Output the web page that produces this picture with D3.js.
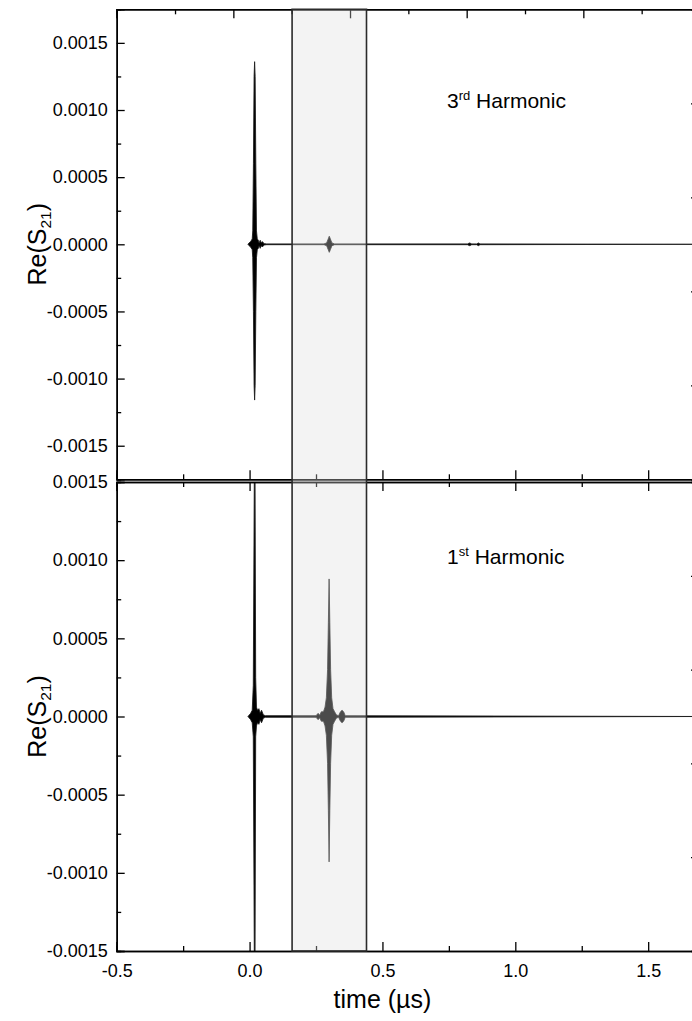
<!DOCTYPE html>
<html>
<head>
<meta charset="utf-8">
<script src="https://cdn.jsdelivr.net/npm/d3@7"></script>
<style>
  html, body { margin: 0; padding: 0; background: #fff; }
  svg { display: block; font-family: "Liberation Sans", Arial, sans-serif; }
</style>
</head>
<body>
<svg id="chart" width="692" height="1021"></svg>
<script>
// ---- time axis (µs) ----
const xMajorTicks = [-0.5, 0.0, 0.5, 1.0, 1.5];
const xMinorTicks = [-0.25, 0.25, 0.75, 1.25];
const xTickLabels = ["-0.5", "0.0", "0.5", "1.0", "1.5"];
// upper frame axis of the 3rd-harmonic layer
const topFrameMajor = [-0.5, 0.0, 0.5, 1.0, 1.5, 2.0];
const topFrameMinor = [-0.25, 0.25, 0.75, 1.25, 1.75];
// right frame ticks (fractions of each layer height, in fifths)
const rightFrameTicks = [1, 2, 3, 4];

// ---- Re(S21) axes ----
const yMajorTicks = [0.0015, 0.0010, 0.0005, 0.0000, -0.0005, -0.0010, -0.0015];
const yMinorTicks = [0.00125, 0.00075, 0.00025, -0.00025, -0.00075, -0.00125];
const yTickLabels = ["0.0015", "0.0010", "0.0005", "0.0000", "-0.0005", "-0.0010", "-0.0015"];

// ---- time window highlighted across both layers (µs) ----
const windowRange = [0.16, 0.44];

// ---- 3rd harmonic: signal envelope (time µs, upper, lower) ----
const h3Time  = [-0.006, -0.002, 0.004, 0.010, 0.012, 0.0145, 0.017, 0.019, 0.021, 0.0235, 0.026, 0.029,
                 0.033, 0.036, 0.040, 0.044, 0.048, 0.055, 0.065, 0.280, 0.290, 0.296, 0.300, 0.304,
                 0.310, 0.320, 0.820, 0.828, 0.836, 0.855, 0.861, 0.867, 1.700];
const h3Upper = [0, 0.00001, 0.00002, 0.00004, 0.0001, 0.0006, 0.00125, 0.00136, 0.00125, 0.0006, 0.0001, 0.00004,
                 0.00003, 0.00001, 0.00003, 0.00001, 0.00002, 0.000005, 0.000003, 0.000003, 0.00001, 0.00004, 0.00006, 0.00004,
                 0.00001, 0.000003, 0.000003, 0.00001, 0.000003, 0.000003, 0.00001, 0.000003, 0];
const h3Lower = [0, -0.00001, -0.00002, -0.00004, -0.0001, -0.0005, -0.00105, -0.00116, -0.00105, -0.0005, -0.0001, -0.00004,
                 -0.00003, -0.00001, -0.00003, -0.00001, -0.00002, -0.000005, -0.000003, -0.000003, -0.00001, -0.00004, -0.00006, -0.00004,
                 -0.00001, -0.000003, -0.000003, -0.00001, -0.000003, -0.000003, -0.00001, -0.000003, 0];

// ---- 1st harmonic: signal envelope (time µs, upper, lower) ----
const h1Time  = [-0.006, 0.004, 0.010, 0.014, 0.018, 0.0205, 0.023, 0.026, 0.030, 0.035, 0.040, 0.045, 0.052, 0.060,
                 0.250, 0.258, 0.264, 0.270, 0.278, 0.284, 0.289, 0.2935, 0.2965, 0.2993, 0.302, 0.305, 0.309, 0.314,
                 0.320, 0.327, 0.335, 0.342, 0.348, 0.354, 0.360, 1.700];
const h1Upper = [0, 0.00002, 0.00004, 0.0002, 0.0016, 0.0016, 0.00025, 0.00006, 0.00004, 0.00005, 0.00002, 0.00004, 0.00001, 0.000005,
                 0.000005, 0.00002, 0.000008, 0.00003, 0.00003, 0.00006, 0.00012, 0.0003, 0.0006, 0.00088, 0.0006, 0.0003, 0.00012, 0.00005,
                 0.00003, 0.00001, 0.000005, 0.00003, 0.00004, 0.00003, 0.000005, 0];
const h1Lower = [0, -0.00002, -0.00004, -0.00013, -0.0016, -0.0016, -0.00013, -0.00006, -0.00004, -0.00005, -0.00002, -0.00004, -0.00001, -0.000005,
                 -0.000005, -0.00002, -0.000008, -0.00003, -0.00003, -0.00006, -0.00012, -0.0003, -0.0006, -0.00093, -0.0006, -0.0003, -0.00012, -0.00005,
                 -0.00003, -0.00001, -0.000005, -0.00003, -0.00004, -0.00003, -0.000005, 0];

const svg = d3.select("#chart");
const TICK_FONT = 18, TITLE_FONT = 21, AXIS_FONT = 25;

const left = 116.7, right = 700;
const x = d3.scaleLinear().domain([-0.5, 1.695]).range([left, right]);
const xFrame = d3.scaleLinear().domain([-0.5, 2.0]).range([left, right]);

const panels = [
  { id: "h3", time: h3Time, upper: h3Upper, lower: h3Lower,
    y: d3.scaleLinear().domain([-0.00175, 0.00175]).range([479.3, 9.3]),
    title: ["3", "rd", " Harmonic"], titleY: 108, labels: false, frameTop: true },
  { id: "h1", time: h1Time, upper: h1Upper, lower: h1Lower,
    y: d3.scaleLinear().domain([-0.0015, 0.0015]).range([951, 482]),
    title: ["1", "st", " Harmonic"], titleY: 564, labels: true, frameTop: false }
];

const defs = svg.append("defs");

panels.forEach(p => {
  const y = p.y;
  const [yb, yt] = y.range();
  const g = svg.append("g").attr("class", "panel-" + p.id);

  defs.append("clipPath").attr("id", "clip-" + p.id)
    .append("rect").attr("x", left).attr("y", yt).attr("width", right - left).attr("height", yb - yt);

  // signal envelope
  const pts = p.time.map((t, i) => ({ t, hi: p.upper[i], lo: p.lower[i] }));
  const area = d3.area().x(d => x(d.t)).y0(d => y(d.lo)).y1(d => y(d.hi));
  g.append("path").datum(pts)
    .attr("clip-path", `url(#clip-${p.id})`)
    .attr("d", area)
    .attr("fill", "#000").attr("stroke", "#1a1a1a")
    .attr("stroke-width", 0.85).attr("stroke-linejoin", "round");

  // left axis
  const yAxis = d3.axisLeft(y).tickValues(yMajorTicks).tickSize(-8).tickPadding(9)
    .tickFormat((d, i) => yTickLabels[i]);
  g.append("g").attr("transform", `translate(${left},0)`).call(yAxis);
  g.append("g").attr("transform", `translate(${left},0)`)
    .call(d3.axisLeft(y).tickValues(yMinorTicks).tickSize(-4.5).tickFormat(""));

  // right frame ticks
  const yFrac = d3.scaleLinear().domain([0, 5]).range([yb, yt]);
  g.append("g").attr("transform", `translate(${right},0)`)
    .call(d3.axisRight(yFrac).tickValues(rightFrameTicks).tickSize(-9).tickFormat(""));

  // bottom axis of the layer
  g.append("g").attr("transform", `translate(0,${yb})`)
    .call(d3.axisBottom(x).tickValues(xMajorTicks).tickSize(-9).tickPadding(13)
      .tickFormat((d, i) => p.labels ? xTickLabels[i] : ""));
  g.append("g").attr("transform", `translate(0,${yb})`)
    .call(d3.axisBottom(x).tickValues(xMinorTicks).tickSize(-5).tickFormat(""));

  // top axis of the layer
  const xt = p.frameTop ? xFrame : x;
  g.append("g").attr("transform", `translate(0,${yt})`)
    .call(d3.axisTop(xt).tickValues(p.frameTop ? topFrameMajor : xMajorTicks).tickSize(-9).tickFormat(""));
  g.append("g").attr("transform", `translate(0,${yt})`)
    .call(d3.axisTop(xt).tickValues(p.frameTop ? topFrameMinor : xMinorTicks).tickSize(-5).tickFormat(""));

  // y-axis title
  const yMid = (yb + yt) / 2;
  const yl = g.append("text")
    .attr("transform", `translate(46,${yMid}) rotate(-90)`)
    .attr("text-anchor", "middle").attr("font-size", AXIS_FONT).attr("fill", "#000");
  yl.append("tspan").text("Re(S");
  yl.append("tspan").attr("font-size", AXIS_FONT * 0.62).attr("dy", 5).text("21");
  yl.append("tspan").attr("dy", -5).text(")");

  // harmonic title
  const tt = g.append("text").attr("x", 447).attr("y", p.titleY)
    .attr("font-size", TITLE_FONT).attr("fill", "#000");
  tt.append("tspan").text(p.title[0]);
  tt.append("tspan").attr("font-size", TITLE_FONT * 0.62).attr("dy", -8).text(p.title[1]);
  tt.append("tspan").attr("dy", 8).text(p.title[2]);
});

// axis styling
svg.selectAll(".domain").attr("stroke", "#000").attr("stroke-width", 1.5);
svg.selectAll(".tick line").attr("stroke", "#000").attr("stroke-width", 1.3);
svg.selectAll(".tick text").attr("font-size", TICK_FONT).attr("fill", "#000")
  .attr("font-family", "'Liberation Sans', Arial, sans-serif");

// x-axis title
svg.append("text").attr("x", x(0.5)).attr("y", 1008)
  .attr("text-anchor", "middle").attr("font-size", AXIS_FONT).attr("fill", "#000")
  .text("time (µs)");

// highlighted time window over both layers
const yTopPanel = panels[0].y, yBotPanel = panels[1].y;
svg.append("rect")
  .attr("x", x(windowRange[0])).attr("y", yTopPanel.range()[1])
  .attr("width", x(windowRange[1]) - x(windowRange[0]))
  .attr("height", yBotPanel.range()[0] - yTopPanel.range()[1])
  .attr("fill", "#dbdbdb").attr("fill-opacity", 0.34)
  .attr("stroke", "#2b2b2b").attr("stroke-width", 1.6);
</script>
</body>
</html>
